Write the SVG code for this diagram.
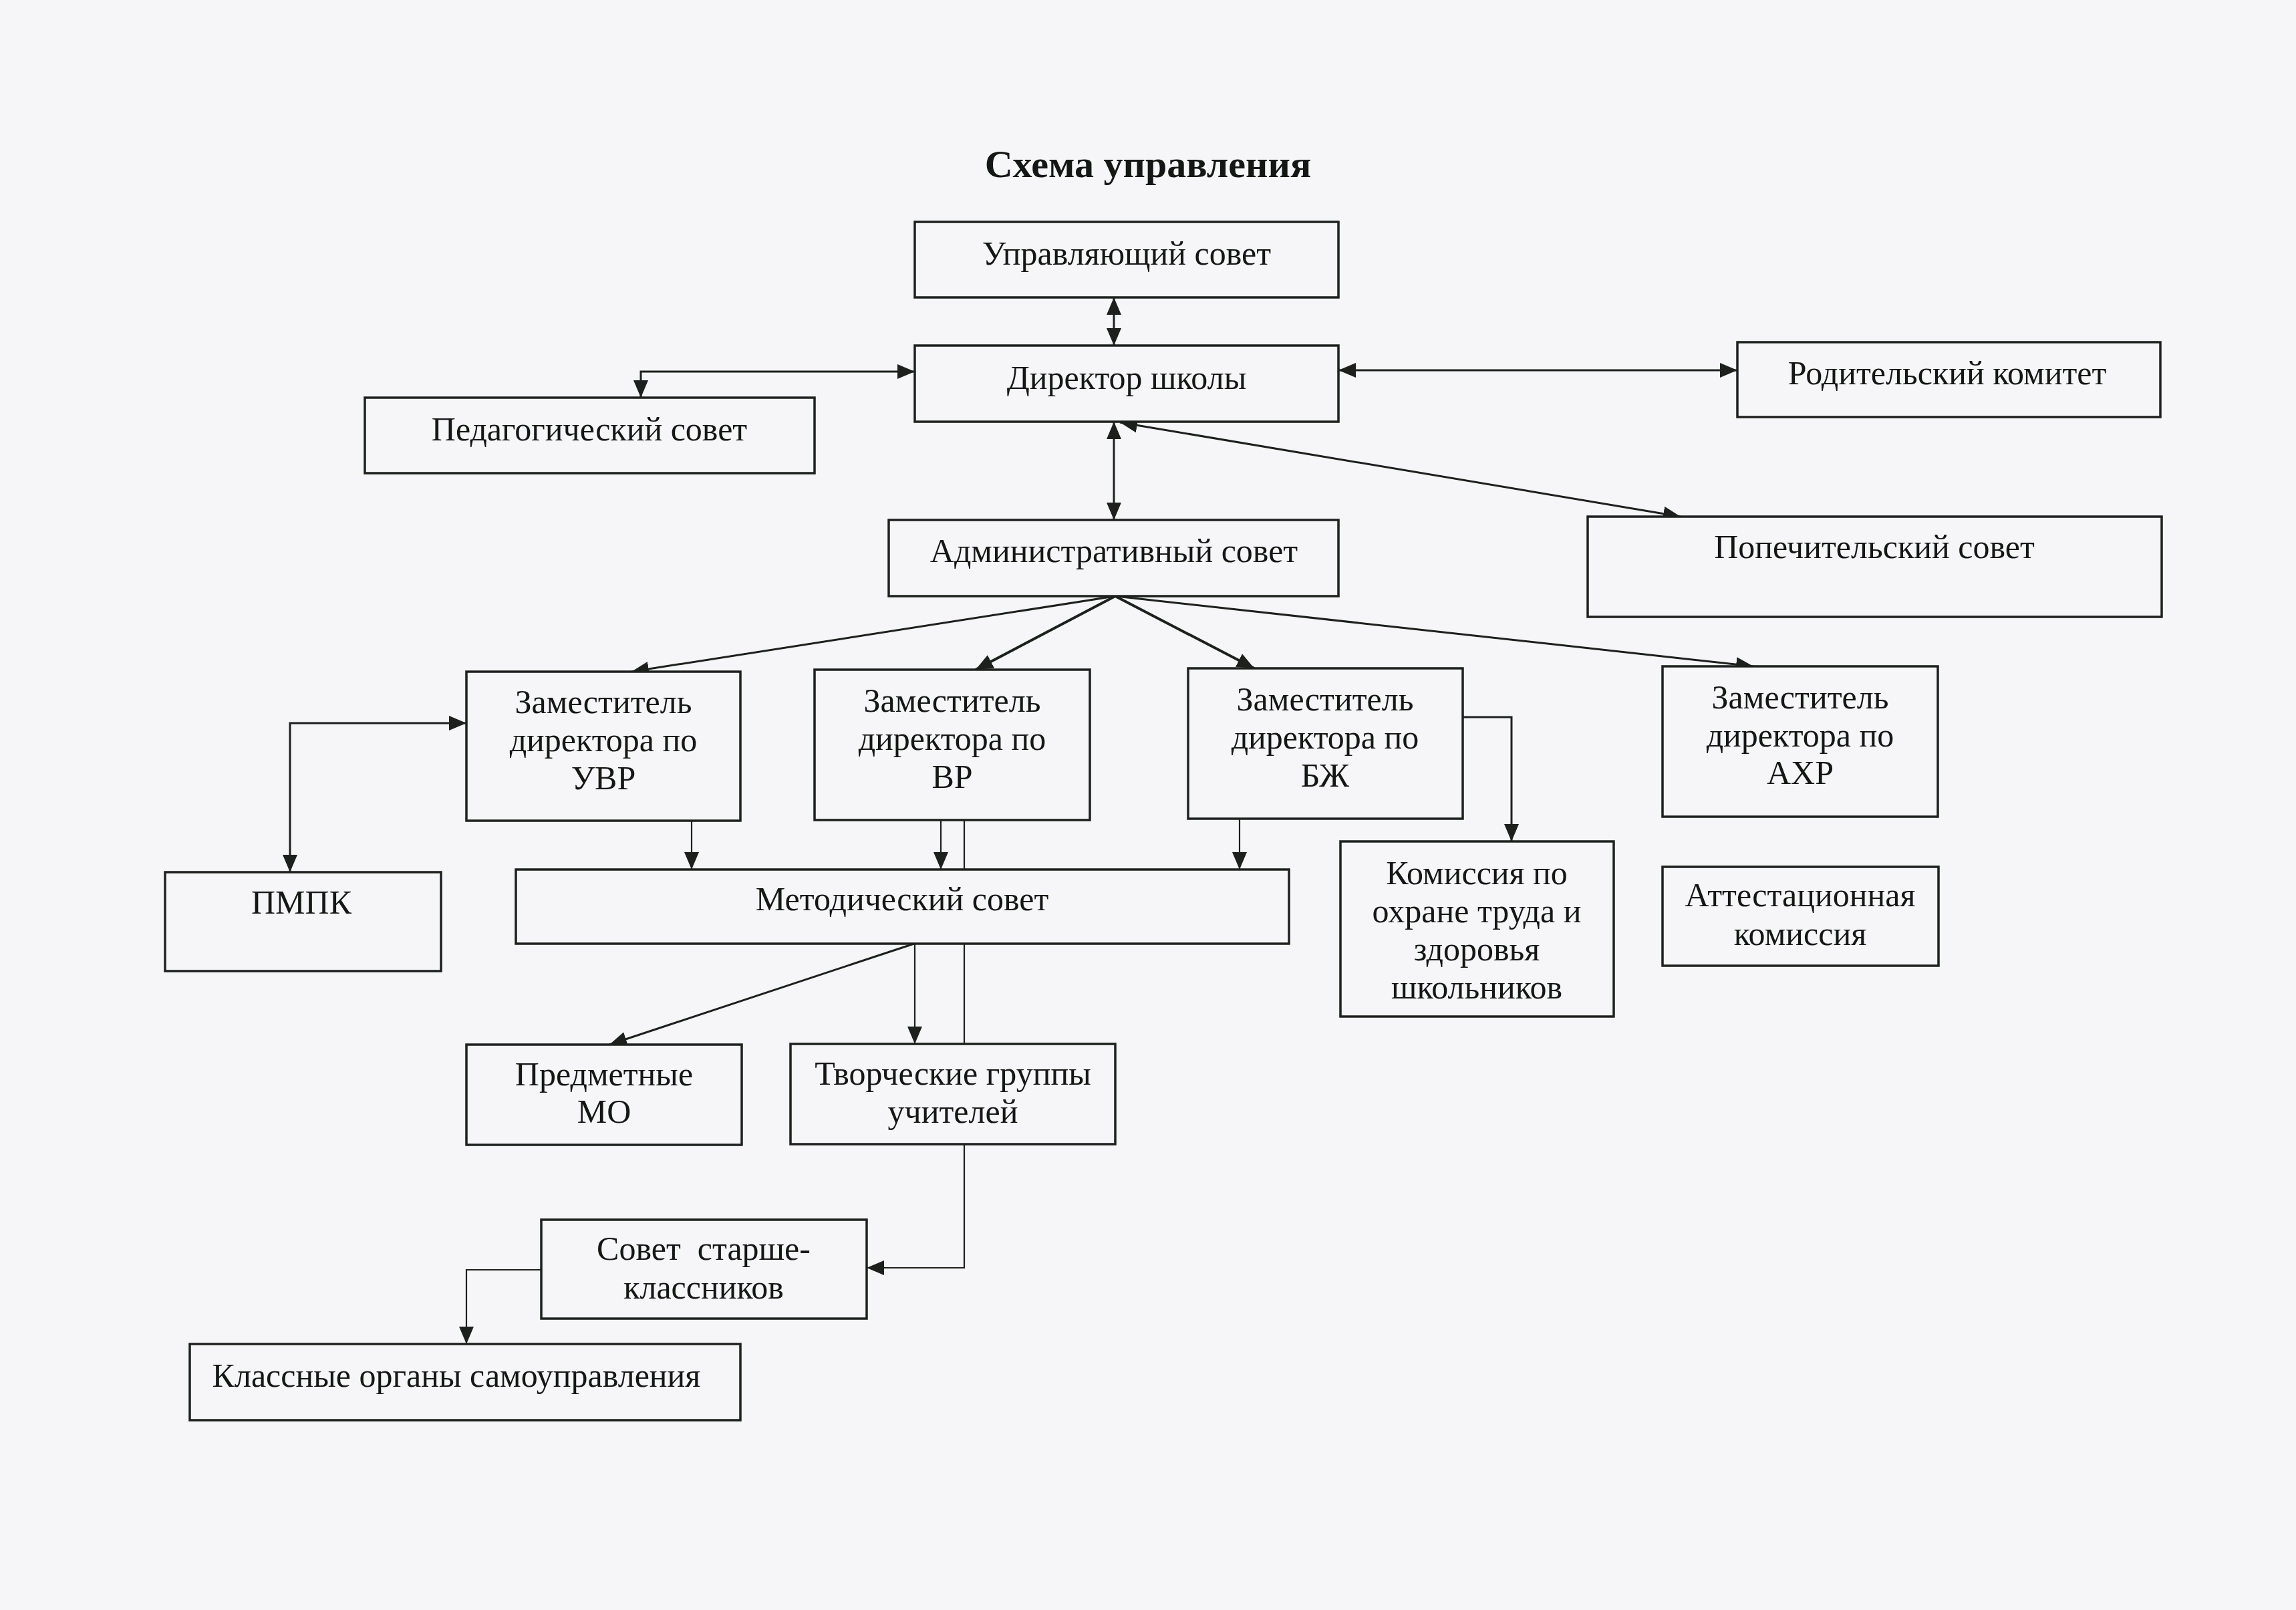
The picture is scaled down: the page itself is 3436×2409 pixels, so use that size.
<svg xmlns="http://www.w3.org/2000/svg" width="3436" height="2409" viewBox="0 0 3436 2409">
<style>
.bg{fill:#f6f6f8}
.box{fill:#f6f6f8;stroke:#1d201d;stroke-width:3.5}
.t{font-family:"Liberation Serif","Times New Roman",serif;font-size:50px;fill:#151715;text-anchor:middle}
.title{font-family:"Liberation Serif","Times New Roman",serif;font-size:58px;font-weight:bold;fill:#151715;text-anchor:middle}
.c{fill:none;stroke:#1d201d;stroke-width:3}
.thin{stroke-width:2.2}
.thick{stroke-width:4}
</style>
<defs>
<marker id="ah" viewBox="0 0 26 22" refX="26" refY="11" markerWidth="26" markerHeight="22" orient="auto-start-reverse" markerUnits="userSpaceOnUse">
<path d="M0,0 L26,11 L0,22 z" fill="#1d201d"/>
</marker>
</defs>
<rect class="bg" x="0" y="0" width="3436" height="2409"/>
<text class="title" x="1718" y="265">Схема управления</text>

<g id="connectors">
<line class="c" x1="1667" y1="445" x2="1667" y2="517" marker-start="url(#ah)" marker-end="url(#ah)"/>
<path class="c" d="M1369,556 H959 V595" marker-start="url(#ah)" marker-end="url(#ah)"/>
<line class="c" x1="2003" y1="554" x2="2600" y2="554" marker-start="url(#ah)" marker-end="url(#ah)"/>
<line class="c" x1="1676" y1="632" x2="2515" y2="773" marker-start="url(#ah)" marker-end="url(#ah)"/>
<line class="c" x1="1667" y1="631" x2="1667" y2="778" marker-start="url(#ah)" marker-end="url(#ah)"/>
<line class="c" x1="1669" y1="892" x2="945" y2="1005" marker-end="url(#ah)"/>
<line class="c thick" x1="1669" y1="892" x2="1460" y2="1002" marker-end="url(#ah)"/>
<line class="c thick" x1="1669" y1="892" x2="1877" y2="1000" marker-end="url(#ah)"/>
<line class="c" x1="1669" y1="892" x2="2624" y2="997" marker-end="url(#ah)"/>
<path class="c" d="M698,1082 H434 V1305" marker-start="url(#ah)" marker-end="url(#ah)"/>
<line class="c thin" x1="1035" y1="1229" x2="1035" y2="1301" marker-end="url(#ah)"/>
<line class="c thin" x1="1408" y1="1227" x2="1408" y2="1301" marker-end="url(#ah)"/>
<path class="c thin" d="M1443,1227 V1897 H1297" marker-end="url(#ah)"/>
<line class="c thin" x1="1855" y1="1225" x2="1855" y2="1301" marker-end="url(#ah)"/>
<path class="c" d="M2189,1073 H2262 V1259" marker-end="url(#ah)"/>
<line class="c" x1="1368" y1="1412" x2="912" y2="1563" marker-end="url(#ah)"/>
<line class="c thin" x1="1369" y1="1412" x2="1369" y2="1562" marker-end="url(#ah)"/>
<path class="c thin" d="M810,1900 H698 V2011" marker-end="url(#ah)"/>
</g>

<g id="upr"><rect class="box" x="1369" y="332" width="634" height="113"/><text class="t" x="1686" y="396">Управляющий совет</text></g>
<g id="dir"><rect class="box" x="1369" y="517" width="634" height="114"/><text class="t" x="1686" y="582">Директор школы</text></g>
<g id="ped"><rect class="box" x="546" y="595" width="673" height="113"/><text class="t" x="882" y="659">Педагогический совет</text></g>
<g id="rod"><rect class="box" x="2600" y="512" width="633" height="112"/><text class="t" x="2914" y="575">Родительский комитет</text></g>
<g id="pop"><rect class="box" x="2376" y="773" width="859" height="150"/><text class="t" x="2805" y="835">Попечительский совет</text></g>
<g id="adm"><rect class="box" x="1330" y="778" width="673" height="114"/><text class="t" x="1667" y="841">Административный совет</text></g>
<g id="uvr"><rect class="box" x="698" y="1005" width="410" height="223"/><text class="t" x="903" y="1067">Заместитель</text><text class="t" x="903" y="1124">директора по</text><text class="t" x="903" y="1181">УВР</text></g>
<g id="vr"><rect class="box" x="1219" y="1002" width="412" height="225"/><text class="t" x="1425" y="1065">Заместитель</text><text class="t" x="1425" y="1122">директора по</text><text class="t" x="1425" y="1179">ВР</text></g>
<g id="bzh"><rect class="box" x="1778" y="1000" width="411" height="225"/><text class="t" x="1983" y="1063">Заместитель</text><text class="t" x="1983" y="1120">директора по</text><text class="t" x="1983" y="1177">БЖ</text></g>
<g id="axr"><rect class="box" x="2488" y="997" width="412" height="225"/><text class="t" x="2694" y="1060">Заместитель</text><text class="t" x="2694" y="1117">директора по</text><text class="t" x="2694" y="1173">АХР</text></g>
<g id="pmpk"><rect class="box" x="247" y="1305" width="413" height="148"/><text class="t" x="451" y="1367">ПМПК</text></g>
<g id="met"><rect class="box" x="772" y="1301" width="1157" height="111"/><text class="t" x="1350" y="1362">Методический совет</text></g>
<g id="kom"><rect class="box" x="2006" y="1259" width="409" height="262"/><text class="t" x="2210" y="1323">Комиссия по</text><text class="t" x="2210" y="1380">охране труда и</text><text class="t" x="2210" y="1437">здоровья</text><text class="t" x="2210" y="1494">школьников</text></g>
<g id="att"><rect class="box" x="2488" y="1297" width="413" height="148"/><text class="t" x="2694" y="1356">Аттестационная</text><text class="t" x="2694" y="1414">комиссия</text></g>
<g id="pred"><rect class="box" x="698" y="1563" width="412" height="150"/><text class="t" x="904" y="1624">Предметные</text><text class="t" x="904" y="1680">МО</text></g>
<g id="tvor"><rect class="box" x="1183" y="1562" width="486" height="150"/><text class="t" x="1426" y="1623">Творческие группы</text><text class="t" x="1426" y="1680">учителей</text></g>
<g id="sovet"><rect class="box" x="810" y="1825" width="487" height="148"/><text class="t" x="1053" y="1885" style="white-space:pre">Совет  старше-</text><text class="t" x="1053" y="1943">классников</text></g>
<g id="klass"><rect class="box" x="284" y="2011" width="824" height="114"/><text class="t" x="683" y="2075">Классные органы самоуправления</text></g>
</svg>
